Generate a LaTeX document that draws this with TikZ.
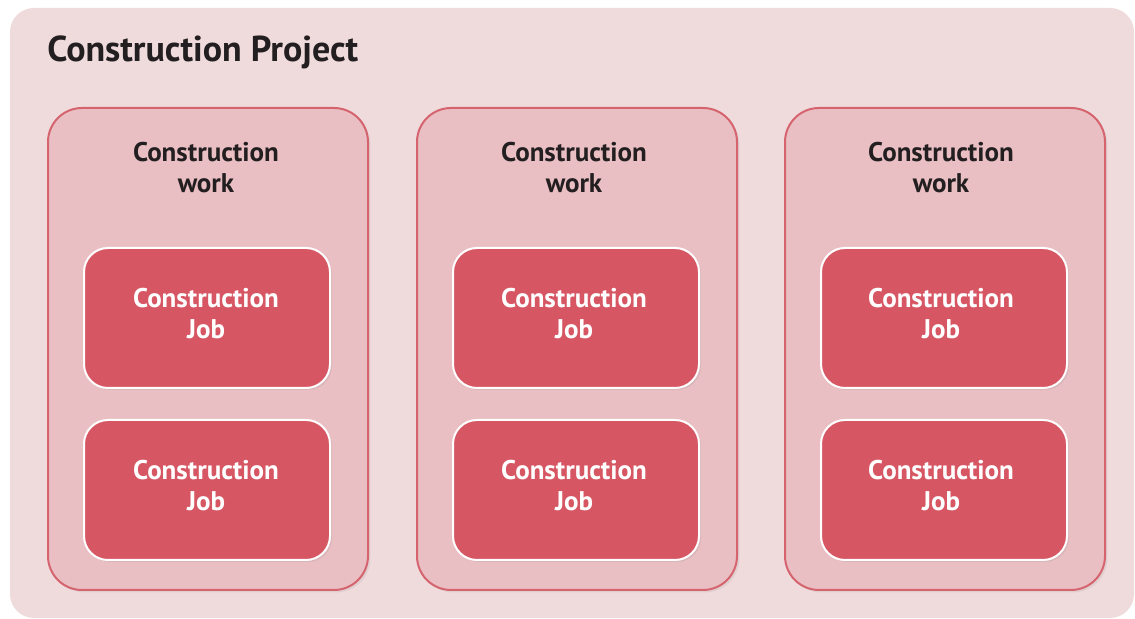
\documentclass[tikz,border=0pt]{standalone}
\usepackage{fontspec}
\setmainfont{PT Sans}
\usepackage{xcolor}
\usetikzlibrary{shadows}

\definecolor{projectbg}{HTML}{EFDADC}
\definecolor{workbg}{HTML}{E9BFC3}
\definecolor{workline}{HTML}{D5646F}
\definecolor{jobbg}{HTML}{D75663}
\definecolor{darktext}{HTML}{231F20}

\tikzset{
  workbox/.style={draw=workline, line width=1pt, fill=workbg, rounded corners=17pt,
    minimum width=160pt, minimum height=241pt,
    drop shadow={shadow xshift=1.2pt, shadow yshift=-1.2pt, opacity=0.12}},
  jobbox/.style={draw=white, line width=1pt, fill=jobbg, rounded corners=12pt,
    minimum width=123pt, minimum height=70pt,
    drop shadow={shadow xshift=1pt, shadow yshift=-1pt, opacity=0.15}},
  joblabel/.style={text=white, font=\bfseries\fontsize{13.5}{15.5}\selectfont, align=center},
  worklabel/.style={text=darktext, font=\bfseries\fontsize{13.5}{15.5}\selectfont, align=center}
}

\begin{document}
\begin{tikzpicture}[x=0.5pt, y=-0.5pt]
  \useasboundingbox (0, 0) rectangle (1135, 619);

  % Project frame
  \fill[projectbg, rounded corners=12pt] (10, 8) rectangle (1134, 618);
  \node[anchor=west, inner sep=0pt, text=darktext, font=\bfseries\fontsize{18}{20}\selectfont]
    (project) at (47, 52) {Construction Project};

  % Construction work (columns)
  \node[workbox] (work1) at (208, 349) {};
  \node[workbox] (work2) at (577, 349) {};
  \node[workbox] (work3) at (945, 349) {};

  % Column labels
  \node[worklabel] (label1) at (206, 168) {Construction\\work};
  \node[worklabel] (label2) at (574, 168) {Construction\\work};
  \node[worklabel] (label3) at (941, 168) {Construction\\work};

  % Construction jobs, row 1
  \node[jobbox] (job11) at (207, 318) {};
  \node[jobbox] (job21) at (576, 318) {};
  \node[jobbox] (job31) at (944, 318) {};
  % Construction jobs, row 2
  \node[jobbox] (job12) at (207, 490) {};
  \node[jobbox] (job22) at (576, 490) {};
  \node[jobbox] (job32) at (944, 490) {};

  % Job labels
  \node[joblabel] (text11) at (206, 314) {Construction\\Job};
  \node[joblabel] (text21) at (574, 314) {Construction\\Job};
  \node[joblabel] (text31) at (941, 314) {Construction\\Job};
  \node[joblabel] (text12) at (206, 486) {Construction\\Job};
  \node[joblabel] (text22) at (574, 486) {Construction\\Job};
  \node[joblabel] (text32) at (941, 486) {Construction\\Job};
\end{tikzpicture}
\end{document}
